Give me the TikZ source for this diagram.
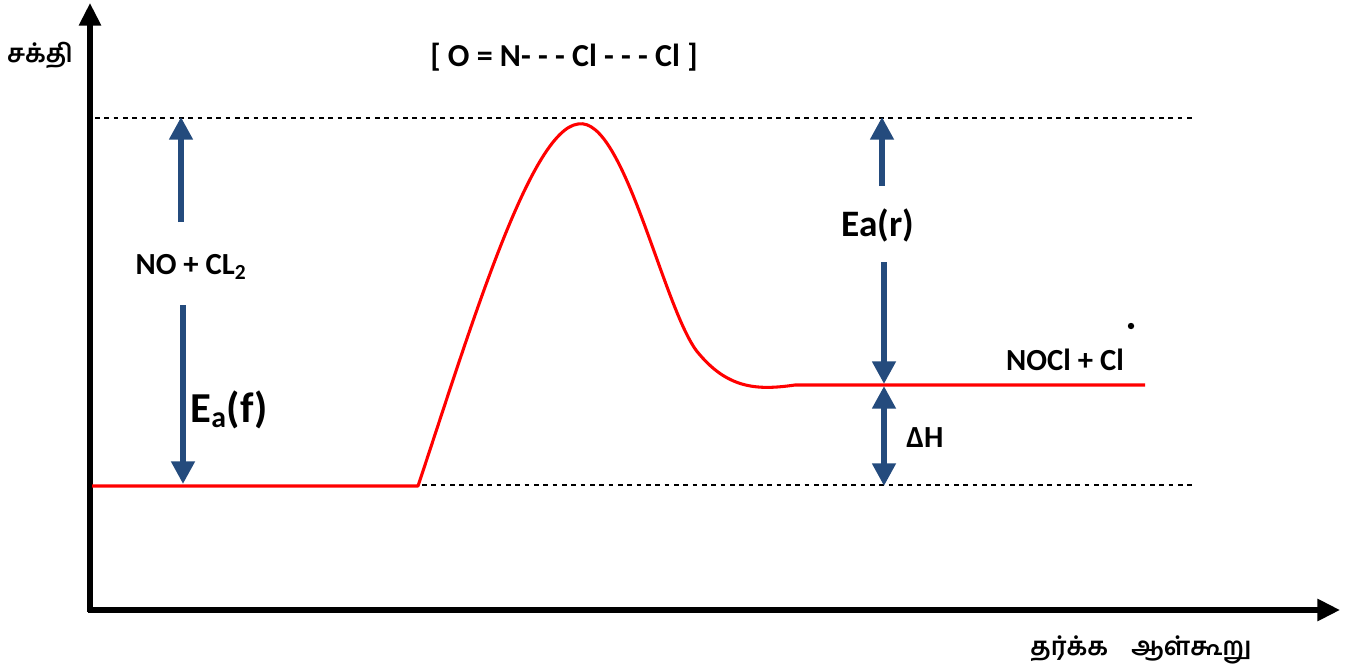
\documentclass[tikz,border=0pt]{standalone}
\usepackage{fontspec}
\setmainfont{Carlito}
\newfontfamily\tamilfont[Script=Tamil]{Hind Madurai}
\usetikzlibrary{arrows.meta}
\definecolor{axisInk}{RGB}{0,0,0}
\definecolor{pathRed}{RGB}{255,0,0}
\definecolor{energyBlue}{RGB}{36,75,125}
\tikzset{
  axis/.style={line width=3.8pt, draw=axisInk, -{Triangle[length=17pt, width=16pt]}},
  level/.style={line width=2.3pt, draw=pathRed},
  guide/.style={line width=0.8pt, draw=black, dash pattern=on 3.5pt off 3.5pt},
  bluearrow/.style={line width=4.6pt, draw=energyBlue, -{Triangle[length=17pt, width=17pt]}},
  bluedouble/.style={bluearrow, {Triangle[length=17pt, width=17pt]}-{Triangle[length=17pt, width=17pt]}},
  label/.style={font=\bfseries\fontsize{23}{27}\selectfont, inner sep=0pt},
  biglabel/.style={font=\bfseries\fontsize{28}{32}\selectfont, inner sep=0pt},
  tamil/.style={font=\tamilfont\bfseries\fontsize{19}{22}\selectfont, inner sep=0pt}
}
\begin{document}
\begin{tikzpicture}[x=0.75pt, y=-0.75pt]
    \useasboundingbox (0,0) rectangle (1354,668);
    % axes
    \coordinate (origin) at (90,610);
    \coordinate (ytop) at (90,3);
    \coordinate (xend) at (1340,610);
    \draw[axis] (90,612) -- (ytop);
    \draw[axis] (88,610) -- (xend);
    \node[tamil] (energy) at (40,55) {சக்தி};
    \node[tamil] (coord) at (1141,650) {தர்க்க\enspace\, ஆள்கூறு};
    % guide lines
    \coordinate (topL) at (95,118);
    \coordinate (topR) at (1195,118);
    \coordinate (botL) at (422,485);
    \coordinate (botR) at (1195,485);
    \draw[guide] (topL) -- (topR);
    \draw[guide] (botL) -- (botR);
    % reaction path
    \coordinate (react) at (92,486);
    \coordinate (rise) at (418,486);
    \coordinate (peak) at (578,124);
    \coordinate (shoulder) at (700,355);
    \coordinate (prod) at (795,385);
    \coordinate (prodR) at (1145,385);
    \draw[level, line join=round] (react) -- (rise)
      .. controls (470,330) and (530,130) .. (peak)
      .. controls (625,115) and (665,318) .. (shoulder)
      .. controls (730,390) and (760,390) .. (prod) -- (prodR);
    % labels
    \node[label, font=\bfseries\fontsize{24}{28}\selectfont] (ts) at (564,57) {[ O = N- - - Cl - - - Cl ]};
    \node[label] (reac) at (191,267) {NO + CL\textsubscript{2}};
    \node[biglabel, font=\bfseries\fontsize{32}{36}\selectfont] (eaf) at (229,410) {E\textsubscript{a}(f)};
    \node[biglabel] (ear) at (878,225) {Ea(r)};
    \node[label] (dh) at (925,438) {ΔH};
    \node[label] (nocl) at (1065,360) {NOCl + Cl};
    \fill (1131,326) circle (2.4pt);
    % energy arrows
    \coordinate (fup) at (181,222);
    \coordinate (fdown) at (183,305);
    \coordinate (fbase) at (183,484);
    \draw[bluearrow] (fup) -- (181,117);
    \draw[bluearrow] (fdown) -- (fbase);
    \coordinate (rup) at (882,186);
    \coordinate (rdown) at (884,262);
    \draw[bluearrow] (rup) -- (882,117);
    \draw[bluearrow] (rdown) -- (884,384);
    \draw[bluedouble] (884,386) -- (884,486);
  \end{tikzpicture}
\end{document}
